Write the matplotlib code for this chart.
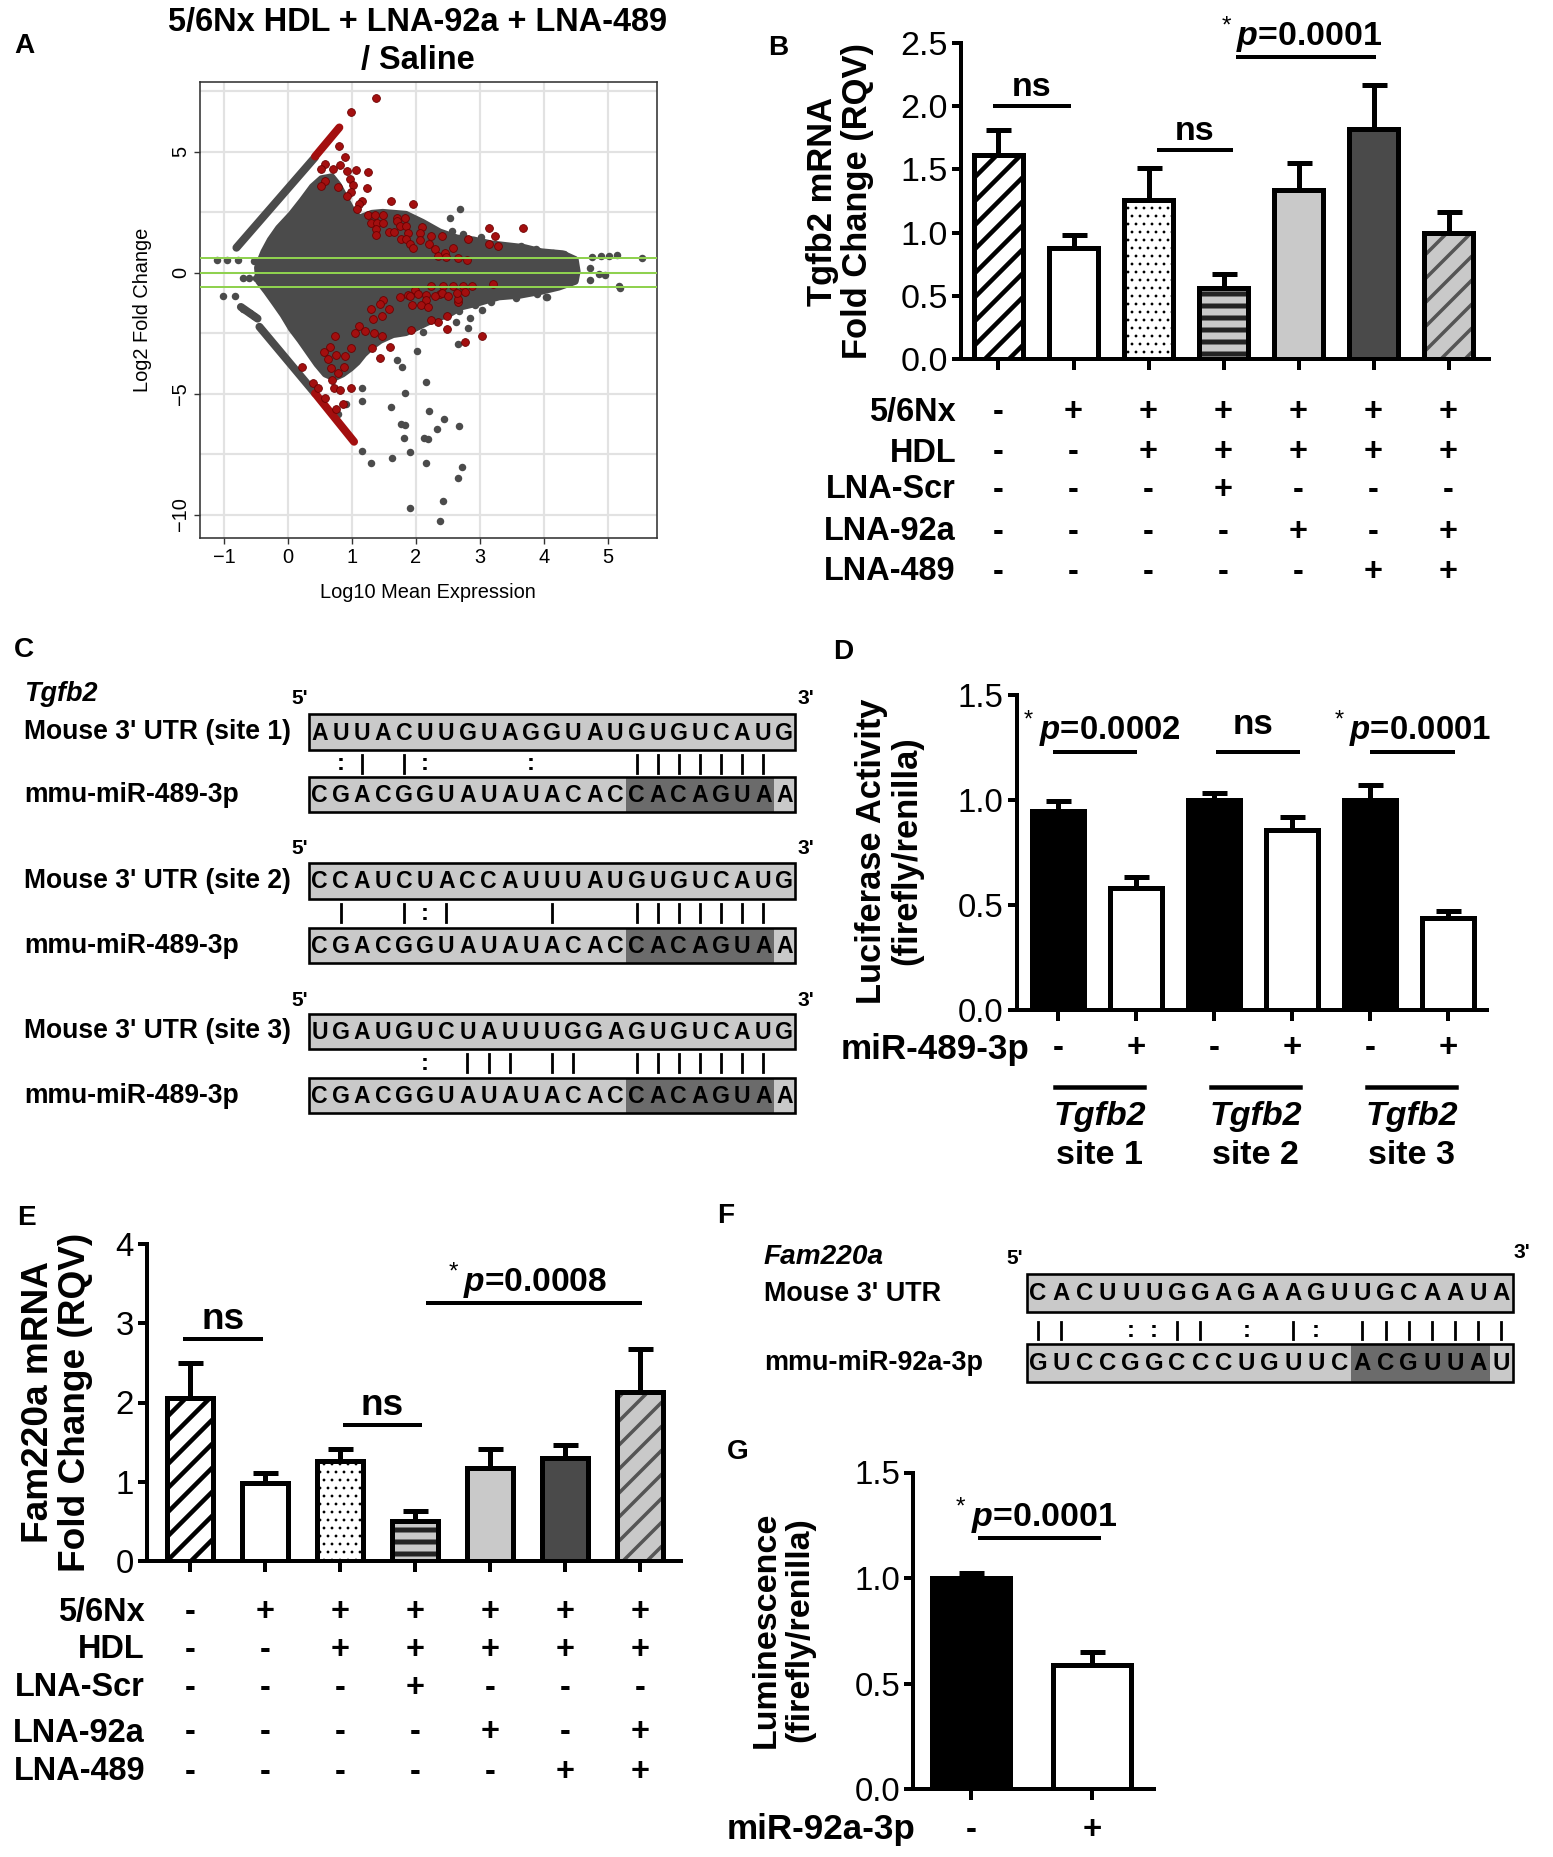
import numpy as np
import matplotlib
matplotlib.use("Agg")
import matplotlib.pyplot as plt
from matplotlib import font_manager as fm
from matplotlib.transforms import blended_transform_factory

# ======================= DATA =======================
# ---- Panel A : MA plot (Log10 mean expression vs Log2 fold change) ----
ma_cloud_x = [-0.48, -0.38, -0.28, -0.15, 0.05, 0.22, 0.38, 0.52, 0.68, 0.78, 0.88, 0.98, 1.11, 1.31, 1.48,
              1.84, 2.10, 2.37, 2.64, 2.90, 3.17, 3.43, 3.70, 3.96, 4.29, 4.49, 4.52, 4.49, 4.23, 3.96,
              3.63, 3.30, 2.97, 2.70, 2.50, 2.30, 2.04, 1.84, 1.64, 1.44, 1.31, 1.18, 1.08, 0.98, 0.85,
              0.72, 0.58, 0.45, 0.32, 0.19, 0.05, -0.08, -0.21, -0.34, -0.46]
ma_cloud_y = [0.21, 0.86, 1.35, 1.84, 2.41, 2.98, 3.55, 3.88, 3.96, 3.63, 3.14, 2.65, 2.25, 2.45, 2.49,
              2.41, 2.08, 1.68, 1.43, 1.35, 1.19, 1.11, 1.03, 0.86, 0.78, 0.54, 0.05, -0.36, -0.60, -0.77,
              -0.93, -1.00, -1.25, -1.42, -1.74, -1.90, -2.23, -2.48, -2.56, -2.80, -3.05, -3.37, -3.70, -3.94, -4.19,
              -4.35, -4.19, -3.78, -3.29, -2.80, -2.31, -1.74, -1.25, -0.77, -0.36]
# streaks of genes (start x, start y, end x, end y)
ma_gray_streaks = [(-0.81, 1.03, 0.42, 4.77), (-0.45, -2.24, 0.42, -4.99), (-0.74, -1.42, -0.48, -1.90)]
ma_red_streaks = [(0.42, 4.80, 0.80, 6.00), (0.42, -4.99, 1.03, -6.99)]
ma_gray_x = [1.15, 1.29, 1.63, 1.90, 2.15, 1.81, 1.77, 1.82, 1.61, 1.83, 2.15, 2.20, 2.44, 2.33, 2.13, 2.19, 2.67,
             2.72, 2.65, 2.42, 1.90, 2.38, 2.02, 1.70, 1.78, 1.16, 1.16, 0.78, 0.90, 2.11, 2.66, 2.81, 2.85, 2.68,
             2.63, 2.93, 3.03, 3.18, 3.57, 3.90, 4.05, 5.19, -1.02, -0.84, -0.70, -0.60, -0.54, -1.11, -0.96, -0.79,
             -0.71, -0.61, -0.51, -0.54, 4.76, 4.90, 5.02, 5.14, 5.53, 4.72, 4.87, 4.95, 5.18, 4.72, 4.32, 4.15,
             3.88, 3.65, 4.03, 3.90, 2.69, 2.53, 2.57, 2.73, 3.02, 3.30, 3.50]
ma_gray_y = [-7.36, -7.86, -7.68, -7.40, -7.86, -6.85, -6.26, -6.30, -5.57, -4.97, -4.51, -5.71, -6.07, -6.48, -6.82,
             -6.89, -6.34, -8.05, -8.48, -9.43, -9.75, -10.26, -3.23, -3.62, -3.92, -5.30, -4.78, -5.86, -5.44, -2.44,
             -2.95, -2.30, -1.89, -1.57, -2.03, -1.34, -1.54, -1.20, -1.06, -0.85, -1.02, -0.64, -0.97, -0.97, -1.52,
             -1.68, -1.80, 0.54, 0.54, 0.54, -0.24, -0.24, -0.24, 0.46, 0.65, 0.68, 0.70, 0.72, 0.60, 0.20, -0.05,
             -0.10, -0.55, -0.30, 0.75, 0.80, 0.99, 1.12, -1.02, -0.90, 2.65, 2.25, 1.73, 1.60, 1.46, -0.70, -0.75]
ma_red_x = [1.38, 0.99, 0.80, 0.887, 0.574, 0.52, 0.70, 0.81, 0.92, 1.06, 1.25, 0.97, 1.02, 0.574, 0.51, 0.78, 1.23,
            0.98, 0.92, 1.15, 1.10, 1.07, 1.607, 1.96, 1.25, 1.36, 1.48, 1.29, 1.39, 1.49, 1.38, 1.38, 1.70, 1.82,
            1.70, 1.75, 1.58, 1.66, 1.84, 1.87, 1.76, 1.84, 1.91, 1.96, 2.10, 2.06, 2.06, 2.24, 2.21, 2.29, 2.41,
            2.34, 2.46, 2.58, 2.47, 2.66, 2.79, 2.81, 3.14, 3.23, 3.14, 3.28, 3.67,
            2.24, 2.42, 2.58, 2.74, 2.88, 3.20, 1.98, 1.88, 1.48, 1.75, 2.16, 2.37, 2.66, 2.77, 2.66, 2.48, 2.48,
            2.35, 2.24, 1.92, 3.03, 2.76, 1.59, 1.44, 1.31, 1.90, 2.03, 2.16, 2.29, 2.40, 2.50, 2.64, 1.93, 2.08,
            2.18, 1.30, 1.44, 1.57, 1.32, 1.47, 1.11, 1.20, 1.05, 1.34, 1.46, 0.73, 0.98, 0.66, 0.56, 0.74, 0.89,
            0.63, 0.67, 0.87, 0.78, 0.22, 0.39, 0.47, 0.69, 0.71, 0.81, 0.98, 0.57, 0.86, 0.74]
ma_red_y = [7.20, 6.64, 5.23, 4.79, 4.51, 4.30, 4.30, 4.44, 4.21, 4.26, 4.17, 3.88, 3.62, 3.79, 3.60, 3.55, 3.50,
            3.34, 3.16, 2.98, 2.82, 2.63, 2.98, 2.82, 2.39, 2.39, 2.39, 2.07, 2.07, 2.07, 1.80, 1.56, 2.27, 2.27,
            2.13, 1.92, 1.69, 1.69, 1.92, 1.65, 1.37, 1.37, 1.17, 1.03, 1.87, 1.62, 1.35, 1.51, 1.17, 0.96, 1.53,
            0.68, 0.82, 1.00, 0.64, 0.61, 0.51, 1.41, 1.83, 1.51, 1.17, 1.10, 1.84,
            -0.55, -0.55, -0.56, -0.55, -0.55, -0.48, -0.73, -0.94, -1.12, -1.00, -0.94, -0.87, -1.20, -0.79, -1.11,
            -1.80, -2.35, -2.03, -1.96, -2.37, -2.62, -2.86, -3.09, -3.51, -3.13, -0.95, -0.88, -1.15, -0.95, -0.85,
            -0.95, -0.85, -1.35, -1.35, -1.42, -1.50, -1.30, -1.50, -1.90, -1.80, -2.20, -2.40, -2.50, -2.50, -2.60,
            -2.60, -3.10, -3.06, -3.27, -3.40, -3.45, -3.55, -3.96, -3.92, -4.14, -3.92, -4.55, -4.78, -4.44, -4.78,
            -4.85, -4.75, -5.17, -5.44, -5.65]
ma_fc_lines = [0.585, 0.0, -0.585]

# ---- Panel B : Tgfb2 mRNA ----
b_vals = [1.61, 0.88, 1.26, 0.56, 1.34, 1.82, 1.00]
b_err = [0.20, 0.10, 0.25, 0.11, 0.21, 0.35, 0.16]
b_yticks = [0.0, 0.5, 1.0, 1.5, 2.0, 2.5]
b_yticklabels = ["0.0", "0.5", "1.0", "1.5", "2.0", "2.5"]

# ---- Panel E : Fam220a mRNA ----
e_vals = [2.06, 0.99, 1.26, 0.51, 1.17, 1.30, 2.13]
e_err = [0.44, 0.12, 0.15, 0.12, 0.24, 0.16, 0.55]
e_yticks = [0, 1, 2, 3, 4]
e_yticklabels = ["0", "1", "2", "3", "4"]

# treatment table shared by B and E
treat_rows = ["5/6Nx", "HDL", "LNA-Scr", "LNA-92a", "LNA-489"]
treat_signs = [["-", "+", "+", "+", "+", "+", "+"],
               ["-", "-", "+", "+", "+", "+", "+"],
               ["-", "-", "-", "+", "-", "-", "-"],
               ["-", "-", "-", "-", "+", "-", "+"],
               ["-", "-", "-", "-", "-", "+", "+"]]

# ---- Panel D : luciferase ----
d_vals = [0.95, 0.58, 1.00, 0.855, 1.00, 0.44]
d_err = [0.045, 0.055, 0.035, 0.065, 0.07, 0.03]
d_signs = ["-", "+", "-", "+", "-", "+"]
d_groups = ["site 1", "site 2", "site 3"]
d_yticks = [0.0, 0.5, 1.0, 1.5]
d_yticklabels = ["0.0", "0.5", "1.0", "1.5"]

# ---- Panel G : luminescence ----
g_vals = [1.00, 0.59]
g_err = [0.023, 0.057]
g_signs = ["-", "+"]
g_yticks = [0.0, 0.5, 1.0, 1.5]
g_yticklabels = ["0.0", "0.5", "1.0", "1.5"]

# ---- Panels C, F : sequence alignments ----
c_utr = ["AUUACUUGUAGGUAUGUGUCAUG", "CCAUCUACCAUUUAUGUGUCAUG", "UGAUGUCUAUUUGGAGUGUCAUG"]
c_mir = "CGACGGUAUAUACACCACAGUAA"
c_pairs = [" :| |:    :    ||||||| ", " |  |:|    |   ||||||| ", "     : ||| ||  ||||||| "]
c_seed = (15, 22)
c_labels = ["Mouse 3' UTR (site 1)", "Mouse 3' UTR (site 2)", "Mouse 3' UTR (site 3)"]
f_utr = "CACUUUGGAGAAGUUGCAAUA"
f_mir = "GUCCGGCCCUGUUCACGUUAU"
f_pairs = "||  ::|| : |: |||||||"
f_seed = (14, 20)

# ======================= STYLE / LAYOUT =======================
W, H = 1553, 1857
DPI = 144


def pt(px):
    return px * 72.0 / DPI


names = {f.name for f in fm.fontManager.ttflist}
SANS = "Liberation Sans" if "Liberation Sans" in names else "DejaVu Sans"

plt.rcParams.update({
    "font.family": [SANS, "DejaVu Sans"],
    "mathtext.fontset": "custom",
    "mathtext.rm": SANS,
    "mathtext.it": SANS + ":italic:bold",
    "mathtext.bf": SANS + ":bold",
    "hatch.linewidth": pt(4.0),
    "axes.unicode_minus": True,
})

fig = plt.figure(figsize=(W / DPI, H / DPI), dpi=DPI)
fig.patch.set_facecolor("white")


def add_ax(left, top, right, bottom):
    return fig.add_axes([left / W, 1 - bottom / H, (right - left) / W, (bottom - top) / H])


# overlay in pixel coordinates for free text and alignments
ov = fig.add_axes([0, 0, 1, 1])
ov.set_xlim(0, W)
ov.set_ylim(H, 0)
ov.axis("off")
ov.set_zorder(-1)


def ftext(x, y, s, size, **kw):
    kw.setdefault("ha", "center")
    kw.setdefault("va", "center")
    ov.text(x, y, s, fontsize=pt(size), **kw)


# panel letters
for let, (x, y) in zip("ABCDEFG", [(24, 46), (778, 48), (24, 650), (843, 652), (26, 1218), (726, 1216), (738, 1452)]):
    ftext(x, y, let, 28, fontweight="bold")

# ======================= PANEL A =======================
GRAY = "#4b4b4b"
RED = "#a30f0f"
axA = add_ax(200, 82, 657, 538)
axA.set_xlim(-1.38, 5.77)
axA.set_ylim(-10.97, 7.88)
axA.set_xticks(range(-1, 6))
axA.set_yticks([-10, -5, 0, 5])
axA.set_yticks(np.arange(-10, 7.6, 2.5), minor=True)
axA.grid(True, which="major", color="#e2e2e2", lw=pt(2.2))
axA.grid(True, which="minor", axis="y", color="#e2e2e2", lw=pt(2.2))
axA.set_axisbelow(True)
axA.tick_params(which="minor", length=0)
axA.tick_params(which="major", length=pt(6), width=pt(1.4), color="#333333", labelsize=pt(20), pad=pt(4))
axA.set_yticklabels(["\u221210", "\u22125", "0", "5"], rotation=90, va="center")
for s in axA.spines.values():
    s.set_linewidth(pt(1.6))
    s.set_color("#333333")

axA.fill(ma_cloud_x, ma_cloud_y, fc=GRAY, ec=GRAY, lw=pt(7), joinstyle="round", zorder=2)
for x0, y0, x1, y1 in ma_gray_streaks:
    axA.plot([x0, x1], [y0, y1], color=GRAY, lw=pt(8), solid_capstyle="round", zorder=2)
axA.scatter(ma_gray_x, ma_gray_y, s=pt(7.5) ** 2, c=GRAY, lw=0, zorder=3)
for x0, y0, x1, y1 in ma_red_streaks:
    axA.plot([x0, x1], [y0, y1], color=RED, lw=pt(8), solid_capstyle="round", zorder=4)
axA.scatter(ma_red_x, ma_red_y, s=pt(7.8) ** 2, c=RED, edgecolors="#6a0000", lw=pt(0.8), zorder=4)
for yv in ma_fc_lines:
    axA.axhline(yv, color="#8fd14f", lw=pt(2), zorder=5)

ftext(418, 23, "5/6Nx HDL + LNA-92a + LNA-489", 32.5, fontweight="bold")
ftext(418, 61, "/ Saline", 32.5, fontweight="bold")
ftext(428, 592, "Log10 Mean Expression", 20)
ftext(143, 310, "Log2 Fold Change", 20, rotation=90)

# ======================= BAR PANEL HELPERS =======================
styles7 = [
    dict(fc="white", hatch="//", hc="black", hlw=4.5),
    dict(fc="white"),
    dict(fc="white", hatch="...", hc="black", hlw=1.2),
    dict(fc="#c9c9c9", hatch="--", hc="#232323", hlw=5.0),
    dict(fc="#c9c9c9"),
    dict(fc="#4a4a4a"),
    dict(fc="#c9c9c9", hatch="//", hc="#555555", hlw=3.5),
]


def bar_panel(box, vals, errs, styles, width, xlim, ylim, yticks, yticklabels, tick_em, cap_px=12.5):
    ax = add_ax(*box)
    x = np.arange(len(vals))
    for i, (v, s) in enumerate(zip(vals, styles)):
        with plt.rc_context({"hatch.linewidth": pt(s.get("hlw", 4.0))}):
            p = ax.bar(i, v, width, color=s["fc"], edgecolor=s.get("hc", s["fc"]), linewidth=0,
                       hatch=s.get("hatch"), zorder=2)[0]
        if s.get("hatch") and hasattr(p, "set_hatch_linewidth"):
            p.set_hatch_linewidth(pt(s["hlw"]))
    ax.bar(x, vals, width, fill=False, edgecolor="black", linewidth=pt(5), zorder=3)
    ax.errorbar(x, vals, yerr=[np.zeros(len(vals)), errs], fmt="none", ecolor="black",
                elinewidth=pt(5), capsize=pt(cap_px), capthick=pt(5), zorder=2.5)
    ax.set_xlim(*xlim)
    ax.set_ylim(*ylim)
    ax.set_xticks(x)
    ax.set_yticks(yticks)
    ax.set_yticklabels(yticklabels)
    for sp in ["top", "right"]:
        ax.spines[sp].set_visible(False)
    for sp in ["left", "bottom"]:
        ax.spines[sp].set_linewidth(pt(4))
    ax.tick_params(axis="y", direction="out", length=pt(9), width=pt(4), pad=pt(4), labelsize=pt(tick_em))
    ax.tick_params(axis="x", direction="out", length=pt(11), width=pt(4), labelbottom=False)
    ax.patch.set_alpha(0)
    return ax


def sig_text(ax, x_star, x_p, y_base, pstr, size_px, unit_px):
    ax.text(x_p, y_base, r"$\mathit{p}$" + pstr, fontsize=pt(size_px), fontweight="bold",
            ha="left", va="baseline", clip_on=False)
    ax.text(x_star, y_base + 0.55 * size_px / unit_px, "*", fontsize=pt(size_px * 0.72),
            ha="center", va="center", clip_on=False)


def hline(ax, x0, x1, y):
    ax.plot([x0, x1], [y, y], color="black", lw=pt(4), solid_capstyle="butt", clip_on=False, zorder=4)


def table(ax, rows, signs, ys, label_right, size):
    tr = blended_transform_factory(ax.transData, fig.transFigure)
    for r, yy in enumerate(ys):
        ftext(label_right, yy, rows[r], size, fontweight="bold", ha="right")
        for i, sgn in enumerate(signs[r]):
            ax.text(i, 1 - yy / H, sgn, transform=tr, fontsize=pt(size), fontweight="bold",
                    ha="center", va="center", clip_on=False)


def ns_text(ax, x, y, size):
    ax.text(x, y, "ns", fontsize=pt(size), fontweight="bold", ha="center", va="center", clip_on=False)


# ======================= PANEL B =======================
axB = bar_panel((961, 43, 1489, 359), b_vals, b_err, styles7, 0.65, (-0.5, 6.54), (0, 2.5),
                b_yticks, b_yticklabels, 34)
unitB = (359 - 43) / 2.5
hline(axB, -0.07, 0.96, 2.0)
ns_text(axB, 0.44, 2.15, 34)
hline(axB, 2.11, 3.13, 1.654)
ns_text(axB, 2.62, 1.80, 34)
hline(axB, 3.16, 5.03, 2.39)
sig_text(axB, 3.04, 3.17, 2.485, "=0.0001", 34, unitB)
ftext(840, 201, "Tgfb2 mRNA\nFold Change (RQV)", 34.5, fontweight="bold", rotation=90, linespacing=1.08)
table(axB, treat_rows, treat_signs, [413, 453, 490, 532, 572], 956, 32.5)

# ======================= PANEL E =======================
axE = bar_panel((147, 1244, 681, 1561), e_vals, e_err, styles7, 0.61, (-0.57, 6.55), (0, 4),
                e_yticks, e_yticklabels, 33)
unitE = (1561 - 1244) / 4
hline(axE, -0.09, 0.98, 2.795)
ns_text(axE, 0.45, 3.05, 37)
hline(axE, 2.04, 3.10, 1.72)
ns_text(axE, 2.57, 1.96, 37)
hline(axE, 3.15, 6.03, 3.26)
sig_text(axE, 3.52, 3.64, 3.41, "=0.0008", 33.5, unitE)
ftext(57, 1402, "Fam220a mRNA\nFold Change (RQV)", 37, fontweight="bold", rotation=90, linespacing=1.05)
table(axE, treat_rows, treat_signs, [1612, 1650, 1688, 1733, 1772], 145, 32.5)

# ======================= PANEL D =======================
stylesD = [dict(fc="black"), dict(fc="white")] * 3
axD = bar_panel((1016.7, 695, 1487, 1010), d_vals, d_err, stylesD, 0.66, (-0.53, 5.5), (0, 1.5),
                d_yticks, d_yticklabels, 33)
unitD = (1010 - 695) / 1.5
hline(axD, -0.07, 1.01, 1.229)
sig_text(axD, -0.38, -0.25, 1.29, "=0.0002", 33, unitD)
hline(axD, 2.03, 3.10, 1.229)
ns_text(axD, 2.50, 1.36, 35)
hline(axD, 4.00, 5.09, 1.229)
sig_text(axD, 3.60, 3.73, 1.29, "=0.0001", 33, unitD)
ftext(889, 851, "Luciferase Activity\n(firefly/renilla)", 34.5, fontweight="bold", rotation=90, linespacing=1.08)
trD = blended_transform_factory(axD.transData, fig.transFigure)
ftext(1029, 1049, "miR-489-3p", 35, fontweight="bold", ha="right")
for i, sgn in enumerate(d_signs):
    axD.text(i, 1 - 1048 / H, sgn, transform=trD, fontsize=pt(33), fontweight="bold", ha="center", va="center")
for g, name in enumerate(d_groups):
    x0 = 2 * g - 0.04
    x1 = 2 * g + 1.1
    axD.plot([x0, x1], [1 - 1087 / H] * 2, transform=trD, color="black", lw=pt(4.5), clip_on=False)
    axD.text((x0 + x1) / 2, 1 - 1117 / H, "Tgfb2", transform=trD, fontsize=pt(34), fontweight="bold",
             style="italic", ha="center", va="center")
    axD.text((x0 + x1) / 2, 1 - 1156 / H, name, transform=trD, fontsize=pt(34), fontweight="bold",
             ha="center", va="center")

# ======================= PANEL G =======================
stylesG = [dict(fc="black"), dict(fc="white")]
axG = bar_panel((913, 1472.5, 1154, 1789), g_vals, g_err, stylesG, 0.64, (-0.48, 1.51), (0, 1.5),
                g_yticks, g_yticklabels, 33)
unitG = (1789 - 1472.5) / 1.5
hline(axG, 0.06, 1.07, 1.19)
sig_text(axG, -0.09, 0.0, 1.247, "=0.0001", 34, unitG)
ftext(783, 1630, "Luminescence\n(firefly/renilla)", 34, fontweight="bold", rotation=90, linespacing=1.08)
trG = blended_transform_factory(axG.transData, fig.transFigure)
ftext(915, 1830, "miR-92a-3p", 35, fontweight="bold", ha="right")
for i, sgn in enumerate(g_signs):
    axG.text(i, 1 - 1830 / H, sgn, transform=trG, fontsize=pt(33), fontweight="bold", ha="center", va="center")


# ======================= ALIGNMENTS (C, F) =======================
def seq_box(x0, x1, yc, hh, seq, seed=None, letter_px=23):
    n = len(seq)
    w = (x1 - x0) / n
    ov.add_patch(plt.Rectangle((x0, yc - hh), x1 - x0, 2 * hh, fc="#c9c9c9", ec="none", zorder=1))
    if seed is not None:
        ov.add_patch(plt.Rectangle((x0 + seed[0] * w, yc - hh), (seed[1] - seed[0]) * w, 2 * hh,
                                   fc="#6b6b6b", ec="none", zorder=1.5))
    ov.add_patch(plt.Rectangle((x0, yc - hh), x1 - x0, 2 * hh, fc="none", ec="black", lw=pt(2.6), zorder=2))
    for i, ch in enumerate(seq):
        ov.text(x0 + (i + 0.5) * w, yc + 1, ch, fontsize=pt(letter_px), fontweight="bold",
                ha="center", va="center", zorder=3)


def pairs(x0, x1, ya, yb, pstr):
    n = len(pstr)
    w = (x1 - x0) / n
    for i, ch in enumerate(pstr):
        xc = x0 + (i + 0.5) * w
        if ch == "|":
            ov.plot([xc, xc], [ya, yb], color="black", lw=pt(2.8))
        elif ch == ":":
            ov.text(xc, (ya + yb) / 2, ":", fontsize=pt(24), fontweight="bold", ha="center", va="center")


# Panel C
cx0, cx1 = 309, 795
c_utr_y = [732, 881, 1031.3]
c_mir_y = [794.5, 945.7, 1095.7]
c_prime_y = [698.5, 849, 1000]
c_hh = 17.6
ftext(24, 694, "Tgfb2", 27, fontweight="bold", style="italic", ha="left")
for k in range(3):
    ftext(300, c_prime_y[k], "5'", 21, fontweight="bold")
    ftext(806, c_prime_y[k], "3'", 21, fontweight="bold")
    ftext(24, c_utr_y[k], c_labels[k], 26.5, fontweight="bold", ha="left")
    ftext(24, c_mir_y[k], "mmu-miR-489-3p", 26.5, fontweight="bold", ha="left")
    seq_box(cx0, cx1, c_utr_y[k], c_hh, c_utr[k])
    seq_box(cx0, cx1, c_mir_y[k], c_hh, c_mir, seed=c_seed)
    pairs(cx0, cx1, c_utr_y[k] + 23, c_utr_y[k] + 41, c_pairs[k])

# Panel F
fx0, fx1 = 1026.5, 1513
ftext(764, 1257, "Fam220a", 28, fontweight="bold", style="italic", ha="left")
ftext(1015, 1259, "5'", 21, fontweight="bold")
ftext(1522, 1252, "3'", 21, fontweight="bold")
ftext(764, 1294, "Mouse 3' UTR", 27, fontweight="bold", ha="left")
ftext(764, 1363, "mmu-miR-92a-3p", 27, fontweight="bold", ha="left")
seq_box(fx0, fx1, 1292.5, 19, f_utr, letter_px=24)
seq_box(fx0, fx1, 1363, 19, f_mir, seed=f_seed, letter_px=24)
pairs(fx0, fx1, 1322, 1339, f_pairs)

fig.savefig("out.png", dpi=DPI, facecolor="white")
